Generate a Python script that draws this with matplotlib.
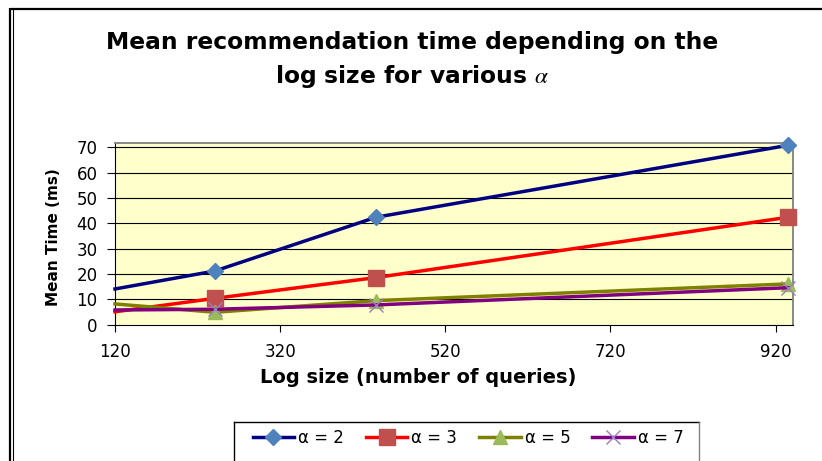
import matplotlib
matplotlib.use("Agg")
import matplotlib.pyplot as plt
from matplotlib.lines import Line2D

plt.rcParams['font.family'] = ['DejaVu Sans']
plt.rcParams['mathtext.fontset'] = 'stix'

# data
log_size = [120, 241, 436, 935]
alpha_2 = [14.1, 21.2, 42.4, 70.8]
alpha_3 = [5.1, 10.4, 18.6, 42.4]
alpha_5 = [8.2, 4.9, 9.5, 16.1]
alpha_7 = [5.8, 6.1, 7.8, 14.6]

labels = ["α = 2", "α = 3", "α = 5", "α = 7"]
x_ticks = [120, 320, 520, 720, 920]
y_ticks = [0, 10, 20, 30, 40, 50, 60, 70]

W, H = 822, 461
fig = plt.figure(figsize=(W / 100, H / 100), dpi=100)
fig.patch.set_facecolor("white")

ax = fig.add_axes([115 / W, 1 - 324.7 / H, (793 - 115) / W, (324.7 - 143) / H])
ax.set_facecolor("#FFFFCC")

styles = [
    dict(color="#000080", marker="D", mfc="#4F81BD", mec="#4F81BD", ms=8.5),
    dict(color="#FF0000", marker="s", mfc="#C0504D", mec="#C0504D", ms=11),
    dict(color="#808000", marker="^", mfc="#9BBB59", mec="#9BBB59", ms=10),
    dict(color="#800080", marker="x", mfc="#9A7FC0", mec="#9A7FC0", ms=10, mew=1),
]
series = [alpha_2, alpha_3, alpha_5, alpha_7]

handles = []
for vals, st, lab in zip(series, styles, labels):
    line, = ax.plot(log_size, vals, lw=2.5, markevery=[1, 2, 3],
                    clip_on=False, zorder=3, label=lab, **st)
    handles.append(line)

ax.set_xlim(120, 941)
ax.set_ylim(0, 71.7)
ax.set_xticks(x_ticks)
ax.set_yticks(y_ticks)
ax.tick_params(axis="both", direction="out", labelsize=12, color="black")
ax.tick_params(axis="x", length=5, pad=8)
ax.tick_params(axis="y", length=5.5, pad=7)

for y in y_ticks[1:]:
    ax.axhline(y, color="black", lw=0.8, zorder=1)

ax.spines["left"].set_color("black")
ax.spines["bottom"].set_color("black")
ax.spines["top"].set_color("#808080")
ax.spines["right"].set_color("#808080")
ax.spines["top"].set_linewidth(1.3)
ax.spines["right"].set_linewidth(1.3)

# titles and axis labels
fig.text(412 / W, 1 - 43 / H, "Mean recommendation time depending on the",
         ha="center", va="center", fontsize=16.8, fontweight="bold")
fig.text(412 / W, 1 - 76 / H, r"log size for various $\alpha$",
         ha="center", va="center", fontsize=16.8, fontweight="bold")
fig.text(418 / W, 1 - 377 / H, "Log size (number of queries)",
         ha="center", va="center", fontsize=14, fontweight="bold")
fig.text(53 / W, 1 - 237 / H, "Mean Time (ms)", rotation=90,
         ha="center", va="center", fontsize=11, fontweight="bold")

# legend
fig.legend(handles=handles, labels=labels, ncol=4, frameon=False,
           loc="center", bbox_to_anchor=(468 / W, 1 - 438 / H),
           fontsize=12, handlelength=2.5, handletextpad=0.24,
           columnspacing=1.3)

# legend box (runs off the bottom of the image)
fig.add_artist(Line2D([234 / W, 234 / W], [1 - 422 / H, 0], color="black", lw=1))
fig.add_artist(Line2D([234 / W, 699 / W], [1 - 422 / H, 1 - 422 / H], color="black", lw=1))
fig.add_artist(Line2D([699 / W, 699 / W], [1 - 422 / H, 0], color="#808080", lw=1))

# outer border
fig.add_artist(Line2D([10 / W, 1], [1 - 8.8 / H, 1 - 8.8 / H], color="black", lw=1.6,
                      solid_capstyle="butt"))
fig.add_artist(Line2D([10 / W, 10 / W], [1 - 8 / H, 0], color="black", lw=1.6,
                      solid_capstyle="butt"))
fig.add_artist(Line2D([12.8 / W, 12.8 / W], [1 - 10 / H, 0], color="black", lw=0.8))

fig.savefig("out.png", dpi=100)
